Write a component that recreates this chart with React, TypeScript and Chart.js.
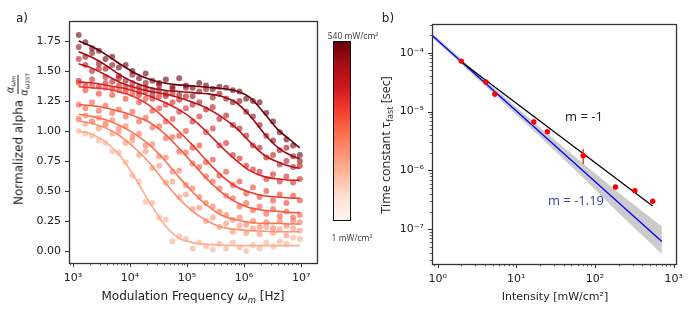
import React, { useEffect, useRef } from 'react';
import { Chart, registerables } from 'chart.js';
Chart.register(...registerables);

// ---------- Panel a data ----------
const FREQS = [1260, 1650, 2160, 2840, 3720, 4870, 6380, 8370, 11000, 14400, 18800, 24700, 32400, 42400, 55600, 72900, 95500, 125000, 164000, 215000, 282000, 369000, 484000, 635000, 832000, 1090000, 1430000, 1870000, 2450000, 3220000, 4220000, 5530000, 7240000, 9500000];
const FIT_FREQS = [1260, 2240, 3980, 7080, 12600, 22400, 39800, 70800, 126000, 224000, 398000, 708000, 1260000, 2240000, 3980000, 7080000, 9440000];

const PTS_1 = [1.00, 0.98, 0.96, 0.92, 0.90, 0.83, 0.82, 0.74, 0.63, 0.58, 0.41, 0.40, 0.28, 0.26, 0.08, 0.12, 0.10, 0.02, 0.07, 0.04, 0.01, 0.06, 0.02, 0.07, 0.03, 0.00, 0.05, 0.02, 0.07, 0.04, 0.08, 0.06, 0.11, 0.10];
const PTS_2 = [1.10, 1.06, 1.08, 1.02, 1.05, 0.98, 0.99, 0.90, 0.92, 0.80, 0.83, 0.69, 0.71, 0.57, 0.58, 0.45, 0.47, 0.35, 0.36, 0.25, 0.28, 0.20, 0.23, 0.16, 0.21, 0.15, 0.19, 0.14, 0.20, 0.15, 0.18, 0.13, 0.19, 0.17];
const PTS_3 = [1.10, 1.13, 1.08, 1.11, 1.06, 1.09, 1.02, 1.04, 0.95, 0.98, 0.88, 0.89, 0.79, 0.78, 0.66, 0.67, 0.55, 0.52, 0.45, 0.40, 0.37, 0.33, 0.30, 0.26, 0.28, 0.22, 0.25, 0.20, 0.24, 0.19, 0.25, 0.21, 0.25, 0.24];
const PTS_4 = [1.22, 1.19, 1.24, 1.17, 1.21, 1.15, 1.18, 1.12, 1.16, 1.08, 1.11, 1.03, 1.04, 0.94, 0.95, 0.83, 0.82, 0.73, 0.70, 0.62, 0.58, 0.52, 0.46, 0.44, 0.37, 0.40, 0.34, 0.37, 0.31, 0.35, 0.29, 0.33, 0.28, 0.30];
const PTS_5 = [1.40, 1.34, 1.38, 1.31, 1.36, 1.30, 1.34, 1.27, 1.31, 1.24, 1.27, 1.17, 1.19, 1.08, 1.10, 0.96, 1.00, 0.86, 0.88, 0.74, 0.76, 0.63, 0.66, 0.55, 0.58, 0.48, 0.53, 0.45, 0.50, 0.42, 0.47, 0.40, 0.46, 0.42];
const PTS_6 = [1.42, 1.38, 1.43, 1.37, 1.40, 1.35, 1.38, 1.33, 1.36, 1.30, 1.33, 1.27, 1.29, 1.22, 1.24, 1.16, 1.19, 1.08, 1.12, 0.99, 1.02, 0.88, 0.90, 0.80, 0.77, 0.71, 0.68, 0.66, 0.60, 0.64, 0.58, 0.62, 0.57, 0.60];
const PTS_7 = [1.60, 1.55, 1.50, 1.52, 1.45, 1.41, 1.44, 1.37, 1.40, 1.33, 1.36, 1.30, 1.34, 1.29, 1.31, 1.26, 1.29, 1.22, 1.24, 1.18, 1.20, 1.10, 1.13, 1.05, 1.02, 0.96, 0.88, 0.86, 0.78, 0.80, 0.72, 0.75, 0.70, 0.71];
const PTS_8 = [1.70, 1.62, 1.65, 1.56, 1.52, 1.55, 1.46, 1.42, 1.47, 1.37, 1.40, 1.34, 1.38, 1.31, 1.35, 1.30, 1.36, 1.29, 1.33, 1.35, 1.28, 1.31, 1.27, 1.24, 1.25, 1.16, 1.12, 1.05, 0.96, 0.92, 0.84, 0.86, 0.79, 0.75];
const PTS_9 = [1.80, 1.74, 1.69, 1.67, 1.60, 1.62, 1.53, 1.55, 1.50, 1.44, 1.48, 1.42, 1.40, 1.43, 1.37, 1.44, 1.38, 1.36, 1.40, 1.38, 1.35, 1.37, 1.36, 1.34, 1.33, 1.27, 1.25, 1.24, 1.15, 1.08, 0.99, 0.93, 0.88, 0.80];

const FIT_1 = [1.00, 0.97, 0.90, 0.78, 0.60, 0.40, 0.22, 0.11, 0.07, 0.055, 0.05, 0.045, 0.045, 0.045, 0.045, 0.045, 0.045];
const FIT_2 = [1.085, 1.06, 1.02, 0.95, 0.85, 0.73, 0.58, 0.44, 0.33, 0.25, 0.20, 0.18, 0.17, 0.165, 0.16, 0.16, 0.16];
const FIT_3 = [1.14, 1.12, 1.09, 1.04, 0.97, 0.88, 0.76, 0.62, 0.49, 0.38, 0.30, 0.26, 0.24, 0.23, 0.23, 0.225, 0.225];
const FIT_4 = [1.22, 1.21, 1.19, 1.16, 1.12, 1.07, 0.98, 0.86, 0.73, 0.60, 0.49, 0.41, 0.36, 0.34, 0.33, 0.32, 0.32];
const FIT_5 = [1.37, 1.36, 1.35, 1.32, 1.28, 1.21, 1.11, 1.00, 0.88, 0.75, 0.63, 0.54, 0.49, 0.46, 0.45, 0.44, 0.44];
const FIT_6 = [1.41, 1.40, 1.38, 1.36, 1.33, 1.29, 1.24, 1.18, 1.10, 0.99, 0.87, 0.76, 0.67, 0.62, 0.60, 0.59, 0.59];
const FIT_7 = [1.56, 1.52, 1.46, 1.40, 1.36, 1.33, 1.31, 1.28, 1.24, 1.19, 1.12, 1.03, 0.91, 0.80, 0.74, 0.70, 0.69];
const FIT_8 = [1.66, 1.61, 1.54, 1.46, 1.40, 1.36, 1.34, 1.33, 1.32, 1.31, 1.29, 1.24, 1.13, 0.98, 0.86, 0.79, 0.77];
const FIT_9 = [1.75, 1.70, 1.63, 1.55, 1.48, 1.43, 1.40, 1.385, 1.375, 1.365, 1.355, 1.335, 1.28, 1.15, 1.01, 0.91, 0.86];

const SERIES_COLORS = ['#fcab8f', '#fc9070', '#fb7555', '#f6573f', '#ec3a2c', '#d42121', '#b91419', '#960b13', '#67000d'];
const A_Y_TICKS = [0, 0.25, 0.5, 0.75, 1.0, 1.25, 1.5, 1.75];

// ---------- Panel b data ----------
const INTENSITY = [2.0, 4.1, 5.33, 16.7, 24.8, 70.8, 182, 321, 541];
const TAU = [7.2e-5, 3.18e-5, 1.99e-5, 6.65e-6, 4.56e-6, 1.78e-6, 5.25e-7, 4.54e-7, 3.0e-7];
const TAU_LOW = [6.6e-5, 2.95e-5, 1.75e-5, 5.9e-6, 4.3e-6, 1.29e-6, 5.1e-7, 4.4e-7, 2.9e-7];
const TAU_HIGH = [7.8e-5, 3.4e-5, 2.2e-5, 7.4e-6, 4.8e-6, 2.29e-6, 5.4e-7, 4.7e-7, 3.1e-7];
const FIT_M1_X = [2.0, 540];
const FIT_M1_Y = [7.0e-5, 2.5e-7];
const FIT_M119_X = [0.84, 708];
const FIT_M119_Y = [2.0e-4, 6.2e-8];
const BAND_X = [0.84, 2, 5, 20, 70, 200, 708];
const BAND_UPPER = [2.19e-4, 7.8e-5, 2.63e-5, 5.37e-6, 1.32e-6, 4.2e-7, 1.12e-7];
const BAND_LOWER = [1.82e-4, 6.4e-5, 2.09e-5, 3.72e-6, 7.6e-7, 1.9e-7, 3.8e-8];

const REDS_STOPS = ['#fff5f0', '#fee0d2', '#fcbba1', '#fc9272', '#fb6a4a', '#ef3b2c', '#cb181d', '#a50f15', '#67000d'];

// ---------- helpers ----------
const SUP = '⁰¹²³⁴⁵⁶⁷⁸⁹';
const sup = (n: number) => String(n).split('').map(c => (c === '-' ? '⁻' : SUP['0123456789'.indexOf(c)])).join('');
const isPow10 = (v: number) => Math.abs(Math.log10(v) - Math.round(Math.log10(v))) < 1e-9;
const logTicks = (min: number, max: number) => {
  const out: number[] = [];
  for (let d = Math.floor(Math.log10(min)); d <= Math.ceil(Math.log10(max)); d++) {
    for (let k = 1; k <= 9; k++) {
      const v = k * Math.pow(10, d);
      if (v >= min && v <= max) out.push(v);
    }
  }
  return out;
};
const logLabel = (v: any) => (isPow10(Number(v)) ? '10' + sup(Math.round(Math.log10(Number(v)))) : '');
const hexA = (hex: string, a: number) => {
  const n = parseInt(hex.slice(1), 16);
  return `rgba(${(n >> 16) & 255},${(n >> 8) & 255},${n & 255},${a})`;
};
const xy = (xs: number[], ys: number[]) => xs.map((x, i) => ({ x, y: ys[i] }));

const TICK_FONT = { family: 'DejaVu Sans', size: 11 };
const AXIS_COLOR = '#333';

const framePlugin = {
  id: 'frame',
  afterDraw(chart: any) {
    const { ctx, chartArea: a } = chart;
    ctx.save();
    ctx.strokeStyle = AXIS_COLOR;
    for (const id of ['x', 'y']) {
      const s = chart.scales[id];
      const isLog = s.type === 'logarithmic';
      s.ticks.forEach((t: any) => {
        const major = !isLog || isPow10(t.value);
        const len = major ? 4 : 2.3;
        const p = Math.round(s.getPixelForValue(t.value)) + 0.5;
        ctx.beginPath();
        ctx.lineWidth = major ? 1 : 0.8;
        if (id === 'x') {
          ctx.moveTo(p, a.bottom);
          ctx.lineTo(p, a.bottom + len);
        } else {
          ctx.moveTo(a.left, p);
          ctx.lineTo(a.left - len, p);
        }
        ctx.stroke();
      });
    }
    ctx.lineWidth = 1.3;
    ctx.strokeRect(Math.round(a.left) + 0.5, Math.round(a.top) + 0.5, Math.round(a.right - a.left), Math.round(a.bottom - a.top));
    ctx.restore();
  },
};

function ChartA() {
  const ref = useRef<HTMLCanvasElement>(null);
  useEffect(() => {
    const pts = [PTS_1, PTS_2, PTS_3, PTS_4, PTS_5, PTS_6, PTS_7, PTS_8, PTS_9];
    const fits = [FIT_1, FIT_2, FIT_3, FIT_4, FIT_5, FIT_6, FIT_7, FIT_8, FIT_9];
    const datasets: any[] = [];
    pts.forEach((p, i) => {
      datasets.push({
        type: 'scatter',
        data: xy(FREQS, p),
        backgroundColor: hexA(SERIES_COLORS[i], 0.6),
        borderWidth: 0,
        pointRadius: 3,
        order: 2,
      });
    });
    fits.forEach((f, i) => {
      datasets.push({
        type: 'line',
        data: xy(FIT_FREQS, f),
        borderColor: SERIES_COLORS[i],
        borderWidth: 1.6,
        pointRadius: 0,
        fill: false,
        cubicInterpolationMode: 'monotone',
        order: 1,
      });
    });
    const xMin = 851, xMax = 1.9e7;
    const chart = new Chart(ref.current!, {
      type: 'scatter',
      data: { datasets },
      plugins: [framePlugin],
      options: {
        animation: false,
        responsive: false,
        events: [],
        layout: { padding: { left: 0, top: 21, right: 13, bottom: 0 } },
        plugins: { legend: { display: false }, tooltip: { enabled: false } },
        scales: {
          x: {
            type: 'logarithmic',
            min: xMin,
            max: xMax,
            grid: { display: false, drawTicks: false },
            border: { display: false },
            ticks: { autoSkip: false, maxRotation: 0, padding: 9, font: TICK_FONT, color: '#222', callback: logLabel },
            afterBuildTicks: (s: any) => { s.ticks = logTicks(xMin, xMax).map(v => ({ value: v })); },
            afterFit: (s: any) => { s.height = 58; },
          },
          y: {
            type: 'linear',
            min: -0.1,
            max: 1.917,
            grid: { display: false, drawTicks: false },
            border: { display: false },
            ticks: { autoSkip: false, padding: 8, font: TICK_FONT, color: '#222', callback: (v: any) => Number(v).toFixed(2) },
            afterBuildTicks: (s: any) => { s.ticks = A_Y_TICKS.map(v => ({ value: v })); },
            afterFit: (s: any) => { s.width = 69; },
          },
        },
      } as any,
    });
    return () => chart.destroy();
  }, []);
  return <canvas ref={ref} width={330} height={321} style={{ position: 'absolute', left: 0, top: 0, width: 330, height: 321 }} />;
}

function ChartB() {
  const ref = useRef<HTMLCanvasElement>(null);
  useEffect(() => {
    const datasets: any[] = [
      { type: 'line', data: xy(BAND_X, BAND_UPPER), borderWidth: 0, pointRadius: 0, fill: '+1', backgroundColor: 'rgba(160,160,160,0.55)', order: 5 },
      { type: 'line', data: xy(BAND_X, BAND_LOWER), borderWidth: 0, pointRadius: 0, fill: false, order: 5 },
      { type: 'line', data: xy(FIT_M119_X, FIT_M119_Y), borderColor: '#0000ff', borderWidth: 1.3, pointRadius: 0, fill: false, order: 4 },
      { type: 'line', data: xy(FIT_M1_X, FIT_M1_Y), borderColor: '#000000', borderWidth: 1.3, pointRadius: 0, fill: false, order: 3 },
    ];
    INTENSITY.forEach((x, i) => {
      datasets.push({ type: 'line', data: [{ x, y: TAU_LOW[i] }, { x, y: TAU_HIGH[i] }], borderColor: '#ff0000', borderWidth: 1.2, pointRadius: 0, fill: false, order: 2 });
    });
    datasets.push({ type: 'scatter', data: xy(INTENSITY, TAU), backgroundColor: '#ff0000', borderWidth: 0, pointRadius: 2.7, order: 1 });
    const xMin = 0.849, xMax = 1059, yMin = 2.58e-8, yMax = 3.07e-4;
    const chart = new Chart(ref.current!, {
      type: 'scatter',
      data: { datasets },
      plugins: [framePlugin],
      options: {
        animation: false,
        responsive: false,
        events: [],
        layout: { padding: { left: 0, top: 24, right: 13, bottom: 0 } },
        plugins: { legend: { display: false }, tooltip: { enabled: false } },
        scales: {
          x: {
            type: 'logarithmic',
            min: xMin,
            max: xMax,
            grid: { display: false, drawTicks: false },
            border: { display: false },
            ticks: { autoSkip: false, maxRotation: 0, padding: 9, font: TICK_FONT, color: '#222', callback: logLabel },
            afterBuildTicks: (s: any) => { s.ticks = logTicks(xMin, xMax).map(v => ({ value: v })); },
            afterFit: (s: any) => { s.height = 57; },
          },
          y: {
            type: 'logarithmic',
            min: yMin,
            max: yMax,
            grid: { display: false, drawTicks: false },
            border: { display: false },
            ticks: { autoSkip: false, padding: 8, font: TICK_FONT, color: '#222', callback: logLabel },
            afterBuildTicks: (s: any) => { s.ticks = logTicks(yMin, yMax).map(v => ({ value: v })); },
            afterFit: (s: any) => { s.width = 72; },
          },
        },
      } as any,
    });
    return () => chart.destroy();
  }, []);
  return <canvas ref={ref} width={332} height={321} style={{ position: 'absolute', left: 360, top: 0, width: 332, height: 321 }} />;
}

const abs = (x: number, y: number, extra: any = {}): any => ({
  position: 'absolute', left: x, top: y, transform: 'translate(-50%,-50%)', whiteSpace: 'nowrap', color: '#222', ...extra,
});

export default function App() {
  const grad = `linear-gradient(to top, ${REDS_STOPS.map((c, i) => `${c} ${(i * 100) / (REDS_STOPS.length - 1)}%`).join(', ')})`;
  return (
    <div style={{ position: 'fixed', left: 0, top: 0, width: 692, height: 321, background: '#fff', overflow: 'hidden' }}>
      <ChartA />
      <ChartB />
      <div style={abs(22, 18, { fontFamily: 'DejaVu Sans', fontSize: 12 })}>a)</div>
      <div style={abs(388, 18, { fontFamily: 'DejaVu Sans', fontSize: 12 })}>b)</div>
      {/* panel a y label */}
      <div style={abs(18, 139, { transform: 'translate(-50%,-50%) rotate(-90deg)', fontFamily: 'DejaVu Sans', fontSize: 12, display: 'flex', alignItems: 'center' })}>
        <span>Normalized alpha</span>
        <span style={{ display: 'inline-flex', flexDirection: 'column', alignItems: 'center', marginLeft: 4, fontSize: 10, lineHeight: '10px' }}>
          <span style={{ borderBottom: '0.9px solid #222', padding: '0 1px 1px' }}>
            <i>α</i><span style={{ fontSize: 7, position: 'relative', top: 2 }}><i>ω</i><span style={{ fontSize: 5.5 }}><i>m</i></span></span>
          </span>
          <span style={{ paddingTop: 1 }}>
            <i>α</i><span style={{ fontSize: 7, position: 'relative', top: 2 }}><i>ω</i><span style={{ fontSize: 5.5 }}>2ST</span></span>
          </span>
        </span>
      </div>
      {/* panel a x label */}
      <div style={abs(193, 296, { fontFamily: 'DejaVu Sans', fontSize: 12 })}>
        Modulation Frequency <i>ω</i><span style={{ fontSize: 8.5, position: 'relative', top: 3 }}><i>m</i></span> [Hz]
      </div>
      {/* colorbar */}
      <div style={{ position: 'absolute', left: 333, top: 41, width: 18, height: 180, boxSizing: 'border-box', border: '1px solid #111', background: grad }} />
      <div style={abs(353, 35, { fontFamily: 'Open Sans', fontSize: 8.5, color: '#333' })}>540 mW/cm²</div>
      <div style={abs(352, 237, { fontFamily: 'Open Sans', fontSize: 8.5, color: '#333' })}>1 mW/cm²</div>
      {/* panel b labels */}
      <div style={abs(385, 145, { transform: 'translate(-50%,-50%) rotate(-90deg)', fontFamily: 'Open Sans', fontSize: 12.5 })}>
        Time constant τ<span style={{ fontSize: 9, position: 'relative', top: 3 }}>fast</span> [sec]
      </div>
      <div style={abs(555, 296, { fontFamily: 'DejaVu Sans', fontSize: 11 })}>Intensity [mW/cm²]</div>
      <div style={abs(584, 116, { fontFamily: 'Open Sans', fontSize: 13 })}>m = -1</div>
      <div style={abs(576, 200, { fontFamily: 'Open Sans', fontSize: 13, color: '#3c3ca0' })}>m = -1.19</div>
    </div>
  );
}
